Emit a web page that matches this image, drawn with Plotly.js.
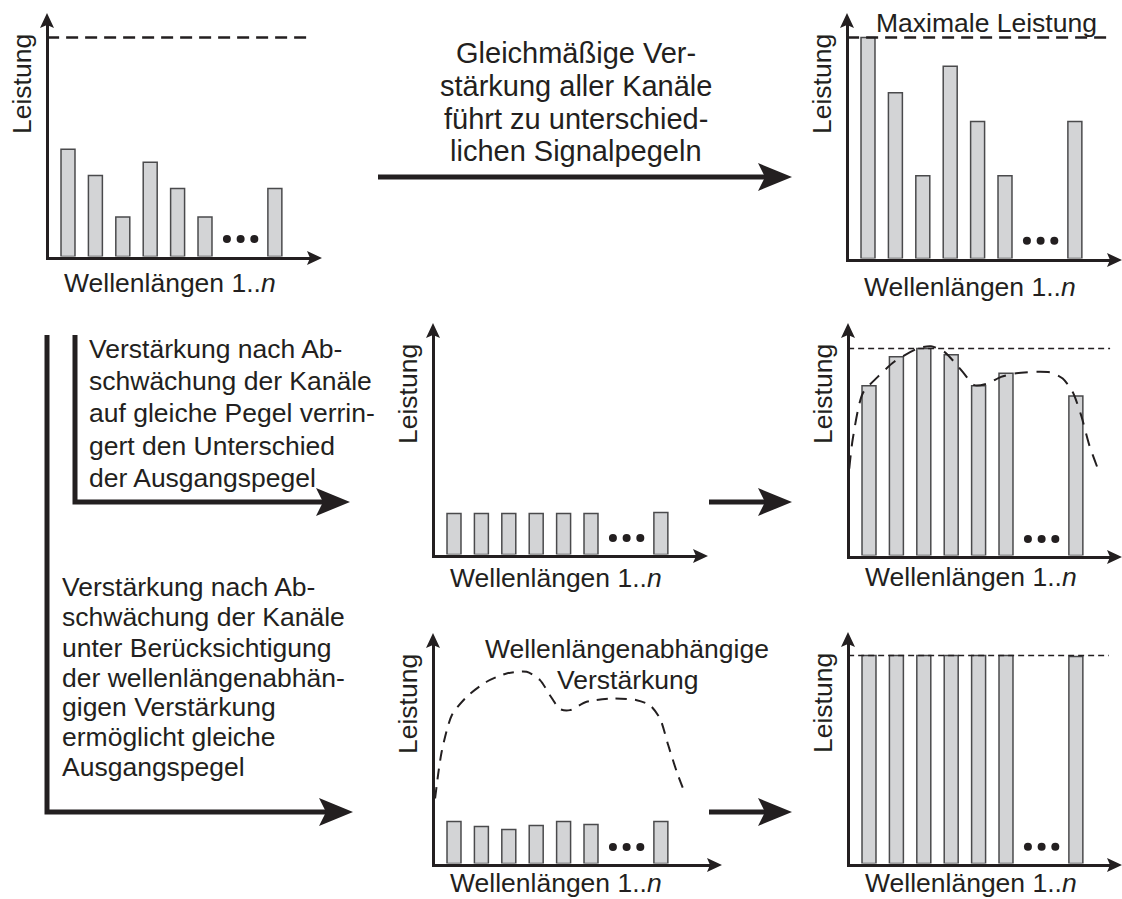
<!DOCTYPE html>
<html>
<head>
<meta charset="utf-8">
<script src="https://cdn.plot.ly/plotly-3.0.1.min.js"></script>
<style>html,body{margin:0;padding:0;background:#fff;}#chart{width:1122px;height:899px;}</style>
</head>
<body>
<div id="chart"></div>
<script>
// ---------------- DATA (relative power, 1 = maximale Leistung) ----------------
const channelPos = [1, 2, 3, 4, 5, 6, 8.55];          // channels 1..6 and n
const ellipsisPos = [6.8, 7.3, 7.8];
const ellipsisLevel = [0.08, 0.08, 0.08];

const inputPower        = [0.49, 0.37, 0.18, 0.43, 0.31, 0.18, 0.31];
const uniformGainOutput = [1.00, 0.75, 0.375, 0.87, 0.62, 0.375, 0.62];
const equalizedInput    = [0.198, 0.198, 0.198, 0.198, 0.198, 0.198, 0.203];
const equalizedOutput   = [0.82, 0.96, 1.00, 0.97, 0.82, 0.88, 0.77];
const preEmphInput      = [0.203, 0.179, 0.164, 0.184, 0.203, 0.188, 0.203];
const preEmphOutput     = [1.00, 1.00, 1.00, 1.00, 1.00, 1.00, 0.995];

const maxLevel = 1.0;

// wavelength dependent gain as drawn over the equalized output (middle right)
const gainOutX = [0.28, 0.41, 0.77, 1.32, 1.92, 2.78, 3.26, 3.75, 4.42, 4.84, 5.33, 5.82, 6.30, 7.03, 7.64, 8.07, 8.43, 8.74, 9.04, 9.35];
const gainOutY = [0.42, 0.565, 0.783, 0.863, 0.936, 1.0, 1.011, 0.984, 0.887, 0.823, 0.831, 0.863, 0.879, 0.887, 0.884, 0.855, 0.791, 0.678, 0.533, 0.42];

// wavelength dependent gain as drawn over the pre-emphasized input (bottom middle)
const gainInX = [0.31, 0.55, 0.92, 1.46, 2.19, 2.92, 3.65, 4.14, 4.50, 4.87, 5.23, 5.84, 6.81, 7.67, 8.15, 8.52, 8.82, 9.13, 9.43];
const gainInY = [0.314, 0.54, 0.716, 0.805, 0.878, 0.918, 0.926, 0.886, 0.813, 0.746, 0.741, 0.781, 0.797, 0.789, 0.765, 0.700, 0.571, 0.443, 0.338];

// ---------------- TEXTS ----------------
const yLabel = 'Leistung';
const xLabel = 'Wellenlängen 1..<i>n</i>';
const maxLabel = 'Maximale Leistung';
const gainLabel = ['Wellenlängenabhängige', 'Verstärkung'];
const textTop = ['Gleichmäßige Ver-', 'stärkung aller Kanäle', 'führt zu unterschied-', 'lichen Signalpegeln'];
const textMid = ['Verstärkung nach Ab-', 'schwächung der Kanäle', 'auf gleiche Pegel verrin-', 'gert den Unterschied', 'der Ausgangspegel'];
const textBot = ['Verstärkung nach Ab-', 'schwächung der Kanäle', 'unter Berücksichtigung', 'der wellenlängenabhän-', 'gigen Verstärkung', 'ermöglicht gleiche', 'Ausgangspegel'];

// ---------------- LAYOUT HELPERS ----------------
const W = 1122, H = 899;
const X = px => px / W, Y = py => 1 - py / H;
const INK = '#231f20';
const FONT = 'Liberation Sans, Arial, Helvetica, sans-serif';
const FS = 26.5;
const SPACING = 27.4, FIRST = 21, CAP = 8;

const panels = [
  {ox: 47,  oy: 258, tipY: 13,  len: 275, hMax: 219, ldy: 25, bars: inputPower,        maxDash: '12px,7px', maxEnd: 9.83},
  {ox: 847, oy: 260, tipY: 13,  len: 275, hMax: 221, ldy: 27, bars: uniformGainOutput, maxDash: '12px,7px', maxEnd: 9.9},
  {ox: 433, oy: 556, tipY: 323, len: 275, hMax: 207, ldy: 22, bars: equalizedInput},
  {ox: 848, oy: 557, tipY: 323, len: 274, hMax: 207, ldy: 20, bars: equalizedOutput,   maxDash: '6px,4px', maxEnd: 9.8, curveX: gainOutX, curveY: gainOutY, curveDash: '13px,9px'},
  {ox: 433, oy: 865, tipY: 633, len: 289, hMax: 207, ldy: 18, bars: preEmphInput,      curveX: gainInX, curveY: gainInY, curveDash: '11px,8px'},
  {ox: 848, oy: 865, tipY: 632, len: 274, hMax: 208, ldy: 18, bars: preEmphOutput,     maxDash: '6px,4px', maxEnd: 9.75}
];

const traces = [], annotations = [], shapes = [];
const layout = {
  width: W, height: H,
  margin: {l: 0, r: 0, t: 0, b: 0},
  paper_bgcolor: '#ffffff', plot_bgcolor: 'rgba(0,0,0,0)',
  showlegend: false, bargap: 0,
  font: {family: FONT, color: INK, size: FS},
  annotations: annotations, shapes: shapes
};

function headRight(tx, ty, len, hw, notch) {
  return `M${X(tx)},${Y(ty)} L${X(tx - len)},${Y(ty - hw)} L${X(tx - len + notch)},${Y(ty)} L${X(tx - len)},${Y(ty + hw)} Z`;
}
function headUp(tx, ty, len, hw, notch) {
  return `M${X(tx)},${Y(ty)} L${X(tx - hw)},${Y(ty + len)} L${X(tx)},${Y(ty + len - notch)} L${X(tx + hw)},${Y(ty + len)} Z`;
}
function addHead(path) {
  shapes.push({type: 'path', xref: 'paper', yref: 'paper', path: path, fillcolor: INK, line: {width: 0}, layer: 'above'});
}
function addText(txt, x, y, xanchor, extra, size) {
  annotations.push(Object.assign({text: txt, xref: 'paper', yref: 'paper', x: X(x), y: Y(y), xanchor: xanchor, yanchor: 'middle',
    showarrow: false, borderpad: 0, font: {family: FONT, size: size || FS, color: INK}}, extra || {}));
}

panels.forEach((p, i) => {
  const s = i === 0 ? '' : String(i + 1);
  const x0 = 1 - (FIRST - 1.5) / SPACING;
  const left = p.ox + 1.5, bottom = p.oy - 1.5;
  layout['xaxis' + s] = {
    domain: [X(left), X(p.ox + p.len - CAP)],
    range: [x0, x0 + (p.ox + p.len - CAP - left) / SPACING],
    anchor: 'y' + s, showline: true, linewidth: 3, linecolor: INK,
    showgrid: false, zeroline: false, showticklabels: false, ticks: '', fixedrange: true
  };
  layout['yaxis' + s] = {
    domain: [Y(bottom), Y(p.tipY + CAP)],
    range: [0, (bottom - p.tipY - CAP) / p.hMax],
    anchor: 'x' + s, showline: true, linewidth: 3, linecolor: INK,
    showgrid: false, zeroline: false, showticklabels: false, ticks: '', fixedrange: true
  };
  const xa = 'x' + s, ya = 'y' + s;
  traces.push({type: 'bar', x: channelPos, y: p.bars, width: 0.51, xaxis: xa, yaxis: ya,
    marker: {color: '#d3d4d6', line: {color: '#4a4a4c', width: 1.5}}, hoverinfo: 'skip'});
  traces.push({type: 'scatter', mode: 'markers', x: ellipsisPos, y: ellipsisLevel, xaxis: xa, yaxis: ya,
    marker: {color: INK, size: 8}, hoverinfo: 'skip', cliponaxis: false});
  if (p.maxDash) {
    traces.push({type: 'scatter', mode: 'lines', x: [x0 - 0.05, p.maxEnd], y: [maxLevel, maxLevel], xaxis: xa, yaxis: ya,
      line: {color: INK, width: p.maxDash === '6px,4px' ? 1.5 : 2.3, dash: p.maxDash}, hoverinfo: 'skip', cliponaxis: false});
  }
  if (p.curveX) {
    traces.push({type: 'scatter', mode: 'lines', x: p.curveX, y: p.curveY, xaxis: xa, yaxis: ya,
      line: {color: INK, width: 2, dash: p.curveDash, shape: 'spline', smoothing: 0.7}, hoverinfo: 'skip', cliponaxis: false});
  }
  // axis arrow heads
  addHead(headUp(p.ox, p.tipY, 15, 7, 3));
  addHead(headRight(p.ox + p.len, p.oy, 15, 7, 3));
  // axis labels
  addText(yLabel, p.ox - 25, p.tipY + 71, 'center', {textangle: -90});
  addText(xLabel, p.ox + 123, p.oy + p.ldy, 'center');
});

// texts
addText(maxLabel, 986, 23, 'center');
addText(gainLabel[0], 627, 649, 'center');
addText(gainLabel[1], 627, 680, 'center');
const topY = [53, 86, 119, 151];
textTop.forEach((t, j) => addText(t, 576, topY[j], 'center', null, 29));
const midY = [349, 381, 413, 446, 478];
textMid.forEach((t, j) => addText(t, 88, midY[j], 'left'));
const botY = [587, 617, 648, 678, 707, 737, 767];
textBot.forEach((t, j) => addText(t, 61, botY[j], 'left'));

// process arrows
const LW = 5;
function line(x0, y0, x1, y1) {
  shapes.push({type: 'line', xref: 'paper', yref: 'paper', x0: X(x0), y0: Y(y0), x1: X(x1), y1: Y(y1), line: {color: INK, width: LW}});
}
line(378, 177, 770, 177); addHead(headRight(792, 177, 34, 14, 7));
line(709, 502, 770, 502); addHead(headRight(792, 502, 34, 14, 7));
line(709, 812, 770, 812); addHead(headRight(792, 812, 34, 14, 7));
shapes.push({type: 'path', xref: 'paper', yref: 'paper', path: `M${X(47)},${Y(335)} L${X(47)},${Y(812)} L${X(330)},${Y(812)}`,
  line: {color: INK, width: LW}, fillcolor: 'rgba(0,0,0,0)'});
addHead(headRight(353, 812, 34, 14, 7));
shapes.push({type: 'path', xref: 'paper', yref: 'paper', path: `M${X(75)},${Y(335)} L${X(75)},${Y(502)} L${X(328)},${Y(502)}`,
  line: {color: INK, width: LW}, fillcolor: 'rgba(0,0,0,0)'});
addHead(headRight(350, 502, 34, 14, 7));

Plotly.newPlot('chart', traces, layout, {displayModeBar: false, staticPlot: true});
</script>
</body>
</html>
